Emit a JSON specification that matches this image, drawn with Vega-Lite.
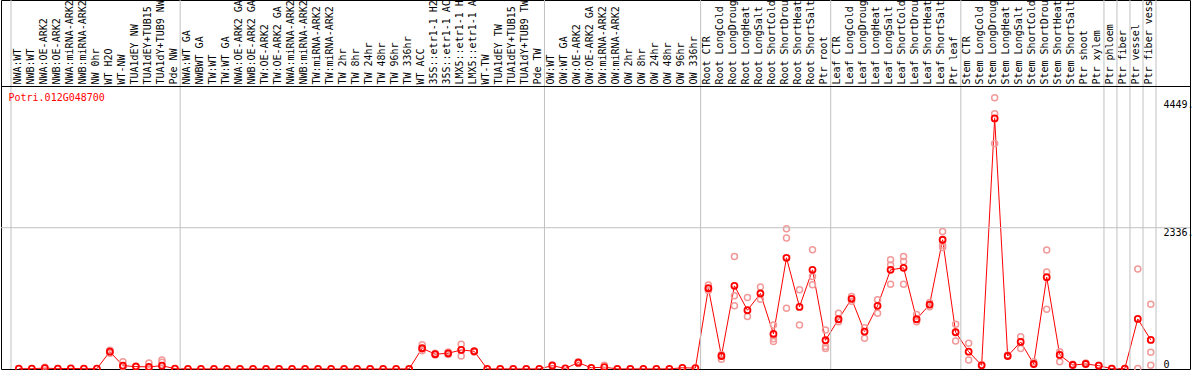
{
  "$schema": "https://vega.github.io/schema/vega-lite/v6.json",
  "width": 1189,
  "height": 369,
  "autosize": {"type": "none"},
  "padding": {"left": 1, "top": 0, "right": 4, "bottom": 1},
  "background": "white",
  "config": {"view": {"stroke": "black", "strokeWidth": 1}, "font": "DejaVu Sans Mono"},
  "datasets": {
    "means": [
      {"sample": "NWA:WT", "value": 5}, {"sample": "NWB:WT", "value": 5}, {"sample": "NWA:OE-ARK2", "value": 15}, {"sample": "NWB:OE-ARK2", "value": 5},
      {"sample": "NWA:miRNA-ARK2", "value": 10}, {"sample": "NWB:miRNA-ARK2", "value": 5}, {"sample": "NW 0hr", "value": 5}, {"sample": "WT H2O", "value": 287},
      {"sample": "WT-NW", "value": 55}, {"sample": "TUA1dEY NW", "value": 40}, {"sample": "TUA1dEY+TUB15 NW", "value": 35}, {"sample": "TUA1dY+TUB9 NW", "value": 55},
      {"sample": "Pde NW", "value": 5}, {"sample": "NWA:WT GA", "value": 2}, {"sample": "NWBWT GA", "value": 2}, {"sample": "TW:WT", "value": 2},
      {"sample": "TW:WT GA", "value": 2}, {"sample": "NWA:OE-ARK2 GA", "value": 2}, {"sample": "NWB:OE-ARK2 GA", "value": 2}, {"sample": "TW:OE-ARK2", "value": 2},
      {"sample": "TW:OE-ARK2 GA", "value": 2}, {"sample": "NWA:miRNA-ARK2 GA", "value": 2}, {"sample": "NWB:miRNA-ARK2 GA", "value": 2}, {"sample": "TW:miRNA-ARK2", "value": 2},
      {"sample": "TW:miRNA-ARK2 ", "value": 2}, {"sample": "TW 2hr", "value": 2}, {"sample": "TW 8hr", "value": 2}, {"sample": "TW 24hr", "value": 2},
      {"sample": "TW 48hr", "value": 2}, {"sample": "TW 96hr", "value": 2}, {"sample": "TW 336hr", "value": 2}, {"sample": "WT ACC", "value": 343},
      {"sample": "35S::etr1-1 H2O", "value": 245}, {"sample": "35S::etr1-1 ACC", "value": 260}, {"sample": "LMX5::etr1-1 H2O", "value": 315}, {"sample": "LMX5::etr1-1 ACC", "value": 293},
      {"sample": "WT-TW", "value": 2}, {"sample": "TUA1dEY TW", "value": 2}, {"sample": "TUA1dEY+TUB15 TW", "value": 2}, {"sample": "TUA1dY+TUB9 TW", "value": 2},
      {"sample": "Pde TW", "value": 2}, {"sample": "OW:WT", "value": 55}, {"sample": "OW:WT GA", "value": 10}, {"sample": "OW:OE-ARK2", "value": 105},
      {"sample": "OW:OE-ARK2 GA", "value": 20}, {"sample": "OW:miRNA-ARK2", "value": 30}, {"sample": "OW:miRNA-ARK2 ", "value": 2}, {"sample": "OW 2hr", "value": 2},
      {"sample": "OW 8hr", "value": 2}, {"sample": "OW 24hr", "value": 2}, {"sample": "OW 48hr", "value": 2}, {"sample": "OW 96hr", "value": 20},
      {"sample": "OW 336hr", "value": 15}, {"sample": "Root CTR", "value": 1337}, {"sample": "Root LongCold", "value": 215}, {"sample": "Root LongDrought", "value": 1375},
      {"sample": "Root LongHeat", "value": 972}, {"sample": "Root LongSalt", "value": 1248}, {"sample": "Root ShortCold", "value": 580}, {"sample": "Root ShortDrought", "value": 1839},
      {"sample": "Root ShortHeat", "value": 1027}, {"sample": "Root ShortSalt", "value": 1640}, {"sample": "Ptr root", "value": 475}, {"sample": "Leaf CTR", "value": 823},
      {"sample": "Leaf LongCold", "value": 1160}, {"sample": "Leaf LongDrought", "value": 618}, {"sample": "Leaf LongHeat", "value": 1044}, {"sample": "Leaf LongSalt", "value": 1640},
      {"sample": "Leaf ShortCold", "value": 1673}, {"sample": "Leaf ShortDrought", "value": 823}, {"sample": "Leaf ShortHeat", "value": 1066}, {"sample": "Leaf ShortSalt", "value": 2137},
      {"sample": "Ptr leaf", "value": 608}, {"sample": "Stem CTR", "value": 287}, {"sample": "Stem LongCold", "value": 61}, {"sample": "Stem LongDrought", "value": 4143},
      {"sample": "Stem LongHeat", "value": 215}, {"sample": "Stem LongSalt", "value": 447}, {"sample": "Stem ShortCold", "value": 83}, {"sample": "Stem ShortDrought", "value": 1519},
      {"sample": "Stem ShortHeat", "value": 232}, {"sample": "Stem ShortSalt", "value": 66}, {"sample": "Ptr shoot", "value": 83}, {"sample": "Ptr xylem", "value": 55},
      {"sample": "Ptr phloem", "value": 5}, {"sample": "Ptr fiber", "value": 5}, {"sample": "Ptr vessel", "value": 828}, {"sample": "Ptr fiber vessel", "value": 480}
    ],
    "reps": [
      {"sample": "NWA:OE-ARK2", "value": 30},
      {"sample": "WT H2O", "value": 300}, {"sample": "WT H2O", "value": 260}, {"sample": "WT H2O", "value": 310},
      {"sample": "WT-NW", "value": 120}, {"sample": "WT-NW", "value": 40},
      {"sample": "TUA1dEY NW", "value": 50},
      {"sample": "TUA1dEY+TUB15 NW", "value": 100}, {"sample": "TUA1dEY+TUB15 NW", "value": 20},
      {"sample": "TUA1dY+TUB9 NW", "value": 150}, {"sample": "TUA1dY+TUB9 NW", "value": 110},
      {"sample": "WT ACC", "value": 400}, {"sample": "WT ACC", "value": 300}, {"sample": "WT ACC", "value": 330},
      {"sample": "35S::etr1-1 H2O", "value": 260}, {"sample": "35S::etr1-1 H2O", "value": 230},
      {"sample": "35S::etr1-1 ACC", "value": 280}, {"sample": "35S::etr1-1 ACC", "value": 240},
      {"sample": "LMX5::etr1-1 H2O", "value": 410}, {"sample": "LMX5::etr1-1 H2O", "value": 215}, {"sample": "LMX5::etr1-1 H2O", "value": 320},
      {"sample": "LMX5::etr1-1 ACC", "value": 300}, {"sample": "LMX5::etr1-1 ACC", "value": 280},
      {"sample": "OW:WT", "value": 70},
      {"sample": "OW:OE-ARK2", "value": 120}, {"sample": "OW:OE-ARK2", "value": 90},
      {"sample": "OW:miRNA-ARK2", "value": 64},
      {"sample": "Root CTR", "value": 1390}, {"sample": "Root CTR", "value": 1310}, {"sample": "Root CTR", "value": 1300},
      {"sample": "Root LongCold", "value": 160}, {"sample": "Root LongCold", "value": 240},
      {"sample": "Root LongDrought", "value": 1861}, {"sample": "Root LongDrought", "value": 1210}, {"sample": "Root LongDrought", "value": 1044},
      {"sample": "Root LongHeat", "value": 1181}, {"sample": "Root LongHeat", "value": 867},
      {"sample": "Root LongSalt", "value": 1354}, {"sample": "Root LongSalt", "value": 1155},
      {"sample": "Root ShortCold", "value": 729}, {"sample": "Root ShortCold", "value": 453}, {"sample": "Root ShortCold", "value": 500},
      {"sample": "Root ShortDrought", "value": 2320}, {"sample": "Root ShortDrought", "value": 2165}, {"sample": "Root ShortDrought", "value": 1005},
      {"sample": "Root ShortHeat", "value": 1309}, {"sample": "Root ShortHeat", "value": 729},
      {"sample": "Root ShortSalt", "value": 1972}, {"sample": "Root ShortSalt", "value": 1530}, {"sample": "Root ShortSalt", "value": 1392},
      {"sample": "Ptr root", "value": 646}, {"sample": "Ptr root", "value": 370}, {"sample": "Ptr root", "value": 340},
      {"sample": "Leaf CTR", "value": 923}, {"sample": "Leaf CTR", "value": 780},
      {"sample": "Leaf LongCold", "value": 1200}, {"sample": "Leaf LongCold", "value": 1120},
      {"sample": "Leaf LongDrought", "value": 508}, {"sample": "Leaf LongDrought", "value": 680},
      {"sample": "Leaf LongHeat", "value": 1143}, {"sample": "Leaf LongHeat", "value": 923},
      {"sample": "Leaf LongSalt", "value": 1806}, {"sample": "Leaf LongSalt", "value": 1720}, {"sample": "Leaf LongSalt", "value": 1403},
      {"sample": "Leaf ShortCold", "value": 1861}, {"sample": "Leaf ShortCold", "value": 1777}, {"sample": "Leaf ShortCold", "value": 1403},
      {"sample": "Leaf ShortDrought", "value": 900}, {"sample": "Leaf ShortDrought", "value": 780},
      {"sample": "Leaf ShortHeat", "value": 1100}, {"sample": "Leaf ShortHeat", "value": 1030},
      {"sample": "Leaf ShortSalt", "value": 2275}, {"sample": "Leaf ShortSalt", "value": 2050}, {"sample": "Leaf ShortSalt", "value": 2010},
      {"sample": "Ptr leaf", "value": 740}, {"sample": "Ptr leaf", "value": 464},
      {"sample": "Stem CTR", "value": 425}, {"sample": "Stem CTR", "value": 149},
      {"sample": "Stem LongCold", "value": 70},
      {"sample": "Stem LongDrought", "value": 4485}, {"sample": "Stem LongDrought", "value": 4220}, {"sample": "Stem LongDrought", "value": 3728},
      {"sample": "Stem LongHeat", "value": 230},
      {"sample": "Stem LongSalt", "value": 535}, {"sample": "Stem LongSalt", "value": 337},
      {"sample": "Stem ShortCold", "value": 120},
      {"sample": "Stem ShortDrought", "value": 1967}, {"sample": "Stem ShortDrought", "value": 1602}, {"sample": "Stem ShortDrought", "value": 989},
      {"sample": "Stem ShortHeat", "value": 287}, {"sample": "Stem ShortHeat", "value": 121},
      {"sample": "Stem ShortSalt", "value": 80},
      {"sample": "Ptr shoot", "value": 100},
      {"sample": "Ptr xylem", "value": 60},
      {"sample": "Ptr phloem", "value": 10},
      {"sample": "Ptr vessel", "value": 1652}, {"sample": "Ptr vessel", "value": 10},
      {"sample": "Ptr fiber vessel", "value": 1072}, {"sample": "Ptr fiber vessel", "value": 277}, {"sample": "Ptr fiber vessel", "value": 61}
    ],
    "seps": [
      {"sample": "NWA:WT"}, {"sample": "NWA:WT GA"}, {"sample": "OW:WT"}, {"sample": "Root CTR"}, {"sample": "Leaf CTR"},
      {"sample": "Stem CTR"}, {"sample": "Ptr phloem"}, {"sample": "Ptr fiber"}, {"sample": "Ptr vessel"}, {"sample": "Ptr fiber vessel"}
    ],
    "lastsep": [{"sample": "Ptr fiber vessel"}],
    "grid": [{"v": 2336}],
    "header": [{"v": 4671}],
    "gene": [{"sample": "NWA:WT", "v": 4671, "label": "Potri.012G048700"}]
  },
  "encoding": {
    "x": {"field": "sample", "type": "nominal", "bandPosition": 0.6,
      "scale": {"type": "band", "range": [10, 1155], "paddingInner": 0, "paddingOuter": 0,
        "domain": ["NWA:WT","NWB:WT","NWA:OE-ARK2","NWB:OE-ARK2","NWA:miRNA-ARK2","NWB:miRNA-ARK2","NW 0hr","WT H2O","WT-NW","TUA1dEY NW","TUA1dEY+TUB15 NW","TUA1dY+TUB9 NW","Pde NW","NWA:WT GA","NWBWT GA","TW:WT","TW:WT GA","NWA:OE-ARK2 GA","NWB:OE-ARK2 GA","TW:OE-ARK2","TW:OE-ARK2 GA","NWA:miRNA-ARK2 GA","NWB:miRNA-ARK2 GA","TW:miRNA-ARK2","TW:miRNA-ARK2 ","TW 2hr","TW 8hr","TW 24hr","TW 48hr","TW 96hr","TW 336hr","WT ACC","35S::etr1-1 H2O","35S::etr1-1 ACC","LMX5::etr1-1 H2O","LMX5::etr1-1 ACC","WT-TW","TUA1dEY TW","TUA1dEY+TUB15 TW","TUA1dY+TUB9 TW","Pde TW","OW:WT","OW:WT GA","OW:OE-ARK2","OW:OE-ARK2 GA","OW:miRNA-ARK2","OW:miRNA-ARK2 ","OW 2hr","OW 8hr","OW 24hr","OW 48hr","OW 96hr","OW 336hr","Root CTR","Root LongCold","Root LongDrought","Root LongHeat","Root LongSalt","Root ShortCold","Root ShortDrought","Root ShortHeat","Root ShortSalt","Ptr root","Leaf CTR","Leaf LongCold","Leaf LongDrought","Leaf LongHeat","Leaf LongSalt","Leaf ShortCold","Leaf ShortDrought","Leaf ShortHeat","Leaf ShortSalt","Ptr leaf","Stem CTR","Stem LongCold","Stem LongDrought","Stem LongHeat","Stem LongSalt","Stem ShortCold","Stem ShortDrought","Stem ShortHeat","Stem ShortSalt","Ptr shoot","Ptr xylem","Ptr phloem","Ptr fiber","Ptr vessel","Ptr fiber vessel"]},
      "axis": {"orient": "top", "labelAngle": -90, "labelAlign": "left", "labelBaseline": "middle", "labelPadding": -84, "ticks": false, "tickSize": 0, "domain": false, "grid": false, "title": null, "labelFont": "DejaVu Sans Mono", "labelFontSize": 10, "labelColor": "black", "labelOverlap": false, "labelLimit": 300, "labelBound": false, "labelFlush": false}},
    "y": {"field": "value", "type": "quantitative",
      "scale": {"domain": [0, 4671], "range": [369, 86.5], "nice": false, "zero": true},
      "axis": {"orient": "right", "values": [0, 2336, 4449], "format": "d", "labelExpr": "datum.value === 0 ? '0' : datum.label + '.'", "labelAlign": "left", "labelPadding": -27, "ticks": false, "tickSize": 0, "domain": false, "grid": false, "title": null, "labelFont": "DejaVu Sans Mono", "labelFontSize": 10, "labelColor": "black", "labelOverlap": false, "labelFlush": false, "labelBound": false,
        "labelBaseline": {"condition": {"test": "datum.value === 0", "value": "bottom"}, "value": "top"}}}
  },
  "layer": [
    {
      "data": {"name": "means"},
      "mark": {"type": "line", "color": "#ff0000", "strokeWidth": 1},
      "encoding": {"order": {"value": null}}
    },
    {
      "data": {"name": "reps"},
      "mark": {"type": "point", "shape": "circle", "filled": false, "size": 36, "strokeWidth": 1.5, "color": "#f29a9a", "opacity": 1}
    },
    {
      "data": {"name": "means"},
      "mark": {"type": "point", "shape": "circle", "filled": false, "size": 36, "strokeWidth": 1.8, "color": "#ff0000", "opacity": 1}
    },
    {
      "data": {"name": "seps"},
      "mark": {"type": "rule", "color": "#c0c0c0", "strokeWidth": 1},
      "encoding": {
        "x": {"field": "sample", "type": "nominal", "bandPosition": 0},
        "y": null
      }
    },
    {
      "data": {"name": "lastsep"},
      "mark": {"type": "rule", "color": "#c0c0c0", "strokeWidth": 1},
      "encoding": {
        "x": {"field": "sample", "type": "nominal", "bandPosition": 1},
        "y": null
      }
    },
    {
      "data": {"name": "grid"},
      "mark": {"type": "rule", "color": "#c0c0c0", "strokeWidth": 1},
      "encoding": {
        "x": null,
        "y": {"field": "v", "type": "quantitative"}
      }
    },
    {
      "data": {"name": "header"},
      "mark": {"type": "rule", "color": "black", "strokeWidth": 1},
      "encoding": {
        "x": null,
        "y": {"field": "v", "type": "quantitative"}
      }
    },
    {
      "data": {"name": "gene"},
      "mark": {"type": "text", "align": "left", "baseline": "alphabetic", "dx": -2.5, "dy": 14, "font": "DejaVu Sans Mono", "fontSize": 10, "color": "#ff0000"},
      "encoding": {
        "x": {"field": "sample", "type": "nominal", "bandPosition": 0},
        "y": {"field": "v", "type": "quantitative"},
        "text": {"field": "label"}
      }
    }
  ]
}
